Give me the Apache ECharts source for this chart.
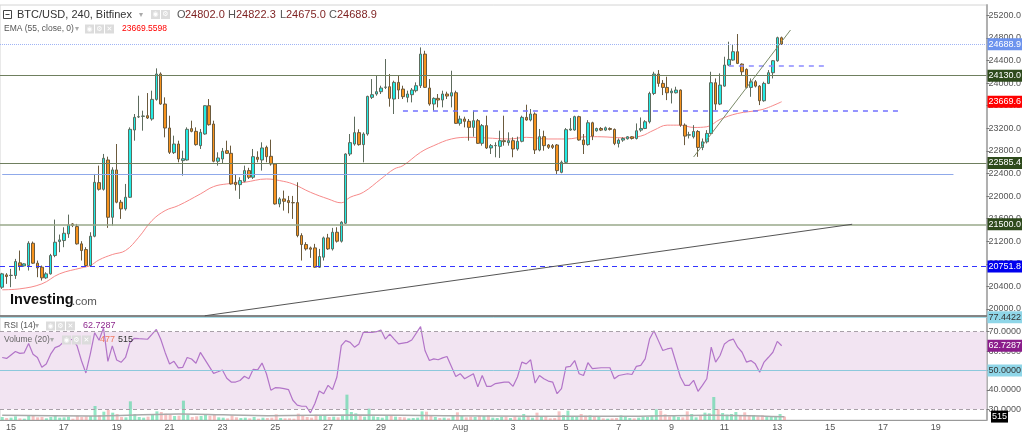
<!DOCTYPE html>
<html>
<head>
<meta charset="utf-8">
<script src="https://cdn.jsdelivr.net/npm/echarts@6/dist/echarts.min.js"></script>
</head>
<body style="margin:0">
<div id="chart" style="width:1024px;height:433px"></div>
<script>
// 4h candles, [open, close, low, high]
var candles = [
[20386,20622,20357,20640],[20604,20575,20445,20634],[20593,20597,20386,20710],[20593,20840,20533,20887],
[20817,20763,20681,21035],[20763,20799,20750,20810],[20769,21164,20681,21200],[21164,20811,20799,21194],
[20811,20728,20563,20858],[20740,20551,20504,20769],[20551,20622,20533,20651],[20622,20946,20610,20976],
[20946,21182,20917,21583],[21194,21223,21005,21318],[21212,21341,21094,21447],[21330,21489,21259,21671],
[21506,21477,21450,21520],[21459,21153,21140,21506],[21153,21035,20858,21200],[21052,20769,20752,21094],
[20769,21288,20752,21359],[21288,22243,21270,22391],[22237,22119,22096,22538],[22119,22668,22096,22745],
[22638,21624,21436,22697],[21624,22462,21477,22509],[22462,21890,21872,22921],[21890,21772,21595,21931],
[21772,21978,21742,22214],[21978,23181,21966,23216],[23169,23393,22980,23452],[23400,23405,23381,23776],
[23410,23417,23157,23511],[23422,23381,23364,23823],[23364,23711,23334,23865],[23711,24160,23688,24260],
[24160,23629,23617,24189],[23629,23204,23039,23747],[23204,22774,22744,23422],[22768,22921,22744,23069],
[22921,22656,22597,22980],[22627,22660,22361,22803],[22638,23181,22627,23216],[23193,23145,23128,23334],
[23145,22910,22892,23216],[22892,23128,22833,23187],[23098,23599,23086,23605],[23599,23263,23246,23717],
[23275,22615,22597,23334],[22615,22674,22538,22774],[22656,22792,22568,22851],[22803,22756,22744,22980],
[22756,22214,22202,22892],[22243,22202,22096,22379],[22202,22273,21949,22332],[22261,22450,22243,22538],
[22450,22332,22302,22500],[22332,22697,22302,22833],[22686,22650,22597,22792],[22638,22851,22450,22951],
[22862,22697,22597,22892],[22703,22568,22538,22998],[22568,21860,21848,22579],[21860,21949,21801,21978],
[21949,21907,21742,22096],[21919,21884,21695,22002],[21884,21880,21595,22002],[21884,21300,21270,22243],
[21300,21141,20858,21341],[21141,21064,21035,21182],[21082,21058,20905,21105],[21082,20740,20728,21153],
[20740,20929,20728,21064],[20917,21259,20858,21282],[21259,21064,21046,21330],[21064,21359,21035,21436],
[21359,21200,21176,21447],[21200,21536,21176,21554],[21518,22744,21506,22756],[22744,22945,22709,23098],
[22921,23122,22892,23405],[23122,22910,22892,23181],[22910,23098,22597,23128],[23098,23764,23069,23776],
[23747,23794,23717,24071],[23806,23847,23776,24130],[23847,23912,23806,23953],[23924,23930,23894,24425],
[23935,23729,23582,24160],[23717,24012,23452,24042],[24012,23877,23717,24130],[23894,23759,23717,23953],
[23747,23806,23658,23865],[23794,23877,23658,23912],[23865,23953,23835,24012],[23953,24513,23912,24631],
[24513,23924,23912,24572],[23912,23629,23599,24071],[23629,23729,23511,23747],[23729,23700,23570,23806],
[23700,23806,23570,23865],[23806,23770,23717,23847],[23770,23829,23570,24218],[23829,23287,23275,23865],
[23287,23364,23246,23422],[23364,23323,23216,23405],[23323,23216,22980,23364],[23216,23334,23051,23511],
[23334,22933,22921,23364],[22933,23246,22892,23275],[23246,22851,22833,23422],[22851,22892,22744,22921],
[22892,22895,22686,22951],[22880,22980,22674,23157],[22980,22963,22892,23422],[22945,22980,22892,23128],
[22980,22833,22686,23039],[22833,22969,22803,23051],[22969,23393,22951,23422],[23393,23346,23334,23617],
[23346,23452,23322,23540],[23452,22815,22744,23481],[22815,23051,22792,23187],[23051,22892,22803,23157],
[22904,22862,22833,22921],[22892,22862,22833,22921],[22904,22450,22391,22921],[22420,22597,22403,22627],
[22597,23175,22585,23204],[23169,23187,23157,23381],[23169,23405,23157,23422],[23405,22992,22980,23422],
[22992,22910,22744,23098],[22910,23297,22892,23344],[23297,23061,22990,23315],[23155,23196,23140,23210],
[23196,23167,23150,23220],[23167,23208,23150,23230],[23196,23179,23160,23215],[23179,22931,22901,23196],
[22931,22990,22860,23019],[22990,23019,22960,23040],[23013,23049,23000,23060],[23049,23019,23000,23061],
[23019,23155,23001,23285],[23167,23196,23137,23391],[23196,23315,23185,23344],[23315,23816,23285,23846],
[23816,24159,23787,24200],[24159,23994,23935,24230],[23994,23923,23787,24053],[23923,23828,23698,24112],
[23828,23858,23639,23905],[23828,23876,23816,23935],[23876,23255,23226,23887],[23255,23061,22901,23285],
[23078,23085,23019,23137],[23049,23143,23019,23255],[23143,22860,22694,23167],[22860,22960,22812,23019],
[22960,23108,22931,23167],[23108,24006,23096,24200],[24006,23628,23521,24082],[23628,23964,23610,24171],
[23946,24318,23935,24466],[24318,24419,24301,24732],[24407,24555,24395,24673],[24555,24348,24336,24868],
[24336,24200,24141,24348],[24242,23923,23905,24260],[23923,24023,23757,24082],[24023,23946,23923,24053],
[23946,23687,23610,23964],[23687,23994,23669,24023],[23994,24183,23982,24230],[24183,24395,24082,24407],
[24395,24803,24378,24821],[24802,24688.9,24675,24822.3]
];

var emaIdx = [0,4,9,13,18,20,22,25,28,31,34,37,40,45,48,51,55,60,63,66,70,74,77,79,82,86,89,91,95,98,102,106,110,115,119,124,128,133,136,141,145,148,151,154,157,160,163,167,172,174,177];
var emaVal = [20340,20357,20445,20622,20728,20769,20870,20964,21035,21270,21565,21742,21831,22037,22167,22214,22243,22302,22273,22214,22066,21949,21880,21978,22066,22302,22479,22538,22774,22892,23010,23039,23028,23010,23039,23010,23010,23051,23049,23031,23061,23167,23255,23255,23214,23226,23356,23462,23521,23569,23669.6];

var rsiIdx = [0,1,3,4,5,6,7,8,9,10,11,12,13,14,16,17,18,19,20,21,22,23,24,25,26,27,28,29,30,31,33,34,35,36,37,38,39,40,41,42,43,44,
  45,46,48,49,50,51,52,53,54,55,56,57,58,59,60,61,62,63,64,65,66,67,68,69,70,71,72,73,74,75,76,77,78,79,80,81,82,84,85,86,87,88,
  89,90,92,93,95,96,97,98,99,100,101,103,104,105,107,108,109,110,111,112,114,115,116,117,118,119,120,121,122,123,124,125,126,127,128,129,130,131,132,
  133,134,136,138,139,140,142,143,144,145,146,147,148,149,150,151,152,154,155,156,157,158,159,160,161,162,163,164,165,166,167,168,169,170,171,172,173,174,175,176,177];
var rsiVal = [56.7,56.2,59.8,58.8,59.1,63.9,58.4,56.7,51.6,53.3,58.4,61.8,62.7,64.9,66.1,62.7,55.0,48.7,58.4,69.5,65.6,72.0,54.7,62.7,55.4,54.2,56.7,64.4,66.6,66.4,66.1,68.6,71.2,66.1,59.3,53.3,54.7,51.3,51.6,56.7,55.9,53.7,
  59.3,55.7,48.5,49.3,50.2,46.0,44.0,44.0,44.8,47.0,45.7,50.6,50.3,53.8,48.3,39.8,41.1,41.0,40.6,40.1,34.6,32.1,31.5,31.5,28.1,32.9,39.4,38.0,42.3,40.1,46.6,62.8,65.4,64.5,62.0,63.7,69.7,69.7,70.0,70.9,66.2,68.8,
  66.2,63.7,64.5,65.7,72.6,60.3,55.1,56.0,55.5,56.5,57.2,46.9,48.3,45.7,48.3,41.5,47.4,41.8,41.8,43.2,44.0,44.0,41.8,46.6,54.3,53.4,55.5,43.5,47.4,45.7,44.5,44.0,38.0,40.6,51.7,52.1,55.1,48.3,47.4,
  54.0,50.9,51.4,51.4,45.7,47.4,48.3,47.9,52.1,52.6,56.0,66.2,70.5,65.4,60.3,61.1,61.6,46.6,42.3,42.3,44.9,39.2,42.3,45.7,62.0,54.3,57.7,63.7,65.4,66.2,62.0,59.4,54.3,55.1,53.4,49.1,54.3,56.8,59.4,65.0,62.7287];

var volumes = [
450,300,350,550,250,200,700,600,400,450, 250,450,750,350,400,500,200,650,450,550,
600,2100,750,1250,1500,1100,900,450,400,2800, 900,450,350,500,750,1300,1200,950,850,600,
650,2900,800,450,550,600,750,650,800,400, 350,250,700,400,300,350,250,450,200,350,
300,350,850,300,250,250,200,950,750,450, 350,800,600,700,450,500,400,600,3800,1200,
1000,650,500,1700,550,450,350,600,700,500, 450,400,250,300,350,1300,1250,700,450,300,
350,250,750,1150,600,400,500,450,650,600, 700,350,300,450,500,300,550,400,900,450,
350,1100,600,500,250,300,1300,750,1400,450, 550,900,650,700,600,450,250,200,250,300,
700,450,300,250,350,500,450,650,1600,1400, 850,550,650,450,400,1300,900,400,600,1100,
1000,3450,1650,1050,800,900,1200,750,1150,650, 750,550,700,600,450,550,900,515
];
var volMaIdx = [0,20,40,60,80,100,120,140,160,177];
var volMaVal = [700,600,900,650,750,650,550,550,700,477];

var tickDays = [0,2,4,6,8,10,12,14,17,19,21,23,25,27,29,31,33,35];
var tickLabels = ['15','17','19','21','23','25','27','29','Aug','3','5','7','9','11','13','15','17','19'];
var priceTicks = [20000,20400,20800,21200,21600,22000,22400,22800,23200,23600,24000,24400,24800,25200];
var rsiTicks = [30,40,50,60,70];

var N = 224;
var cats = [];
for (var i = 0; i < N; i++) cats.push(String(i));
var labelAt = {};
tickDays.forEach(function (d, k) { labelAt[String(2 + 6 * d)] = tickLabels[k]; });
var isTick = function (idx, val) { return labelAt[val] !== undefined; };

function tag(v, text, bg, fg, line) {
  return {
    yAxis: v,
    lineStyle: line || { color: 'transparent' },
    label: { show: true, position: 'end', distance: 1, formatter: text, backgroundColor: bg, color: fg,
      fontSize: 9, fontFamily: 'Liberation Sans', padding: [2, 1, 1, 1] }
  };
}
function seg(x1, v1, x2, v2, style) {
  return [{ coord: [x1, v1], lineStyle: style, label: { show: false } }, { coord: [x2, v2] }];
}

var volData = volumes.map(function (v, i) {
  var up = candles[i][1] >= candles[i][0];
  return { value: v, itemStyle: { color: up ? 'rgba(40,210,140,0.5)' : 'rgba(240,120,120,0.45)' } };
});

var chart = echarts.init(document.getElementById('chart'));

var texts = [];
function txt(x, y, s, size, color, weight) {
  texts.push({ type: 'text', x: x, y: y, z: 100,
    style: { text: s, fontSize: size, fontFamily: 'Liberation Sans', fontWeight: weight || 'normal', fill: color, verticalAlign: 'middle' } });
}
function icons(x, y, n) {
  var glyph = ['◉', '⚙', '✕'];
  for (var k = 0; k < n; k++) {
    texts.push({ type: 'rect', z: 100, shape: { x: x + k * 10, y: y, width: 9, height: 9 }, style: { fill: '#dcdcdc' } });
    texts.push({ type: 'text', z: 101, x: x + k * 10 + 4.5, y: y + 4.5,
      style: { text: glyph[k], fontSize: 7, fill: '#fff', align: 'center', verticalAlign: 'middle', fontFamily: 'DejaVu Sans' } });
  }
}
texts.push({ type: 'rect', z: 100, shape: { x: 3.5, y: 10.5, width: 8, height: 8 }, style: { fill: '#fff', stroke: '#444', lineWidth: 1 } });
texts.push({ type: 'line', z: 101, shape: { x1: 5.5, y1: 14.5, x2: 9.5, y2: 14.5 }, style: { stroke: '#444', lineWidth: 1 } });
txt(17, 15, 'BTC/USD, 240, Bitfinex', 11, '#333');
txt(139, 15, '▾', 8, '#aaa');
icons(151, 10, 2);
txt(177, 15, 'O', 11, '#555'); txt(185, 15, '24802.0', 11, '#7d1f1f');
txt(228, 15, 'H', 11, '#555'); txt(236, 15, '24822.3', 11, '#7d1f1f');
txt(280, 15, 'L', 11, '#555'); txt(286, 15, '24675.0', 11, '#7d1f1f');
txt(329, 15, 'C', 11, '#555'); txt(337, 15, '24688.9', 11, '#7d1f1f');
txt(4, 29, 'EMA (55, close, 0)', 8.5, '#555');
txt(75, 29, '▾', 8, '#aaa');
icons(85, 24.5, 3);
txt(122, 29, '23669.5598', 8.5, '#ff0000');
txt(4, 326, 'RSI (14)', 8.5, '#555');
txt(35, 326, '▾', 8, '#aaa');
icons(46, 321.5, 3);
txt(83, 326, '62.7287', 9, '#8e2a8e');
txt(4, 340, 'Volume (20)', 8.5, '#666');
txt(50, 340, '▾', 8, '#aaa');
icons(62, 335.5, 3);
txt(100, 340, '477', 9, '#f07860');
txt(118, 340, '515', 9, '#333');
txt(10, 300, 'Investing', 14.5, '#111', 'bold');
txt(72, 302, '.com', 11.5, '#555');

var option = {
  animation: false,
  backgroundColor: '#fff',
  grid: [
    { left: 0, top: 5, width: 990, height: 311, show: true, borderColor: '#d4d4d4', borderWidth: 1 },
    { left: 0, top: 317, width: 990, height: 103, show: true, borderColor: '#d4d4d4', borderWidth: 1 },
    { left: 0, top: 394, width: 990, height: 26 }
  ],
  xAxis: [
    { type: 'category', data: cats, gridIndex: 0, axisLabel: { show: false }, axisTick: { show: false },
      axisLine: { lineStyle: { color: '#666', width: 1.5 } } },
    { type: 'category', data: cats, gridIndex: 1,
      axisLine: { lineStyle: { color: '#999' } },
      axisTick: { interval: isTick, alignWithLabel: true, length: 3, lineStyle: { color: '#888' } },
      axisLabel: { interval: isTick, formatter: function (v) { return labelAt[v] || ''; },
        color: '#555', fontSize: 9, fontFamily: 'Liberation Sans', margin: 3 } },
    { type: 'category', data: cats, gridIndex: 2, show: false }
  ],
  yAxis: [
    { gridIndex: 0, position: 'right', min: 19876, max: 25382, splitLine: { show: false },
      axisLine: { show: true, lineStyle: { color: '#b0b0b0', width: 2 } },
      axisTick: { show: true, length: 3, customValues: priceTicks, lineStyle: { color: '#777' } },
      axisLabel: { customValues: priceTicks, formatter: function (v) { return v.toFixed(1); },
        color: '#555', fontSize: 9, fontFamily: 'Liberation Sans', margin: 2 } },
    { gridIndex: 1, position: 'right', min: 24.4, max: 77.6, splitLine: { show: false },
      axisLine: { show: true, lineStyle: { color: '#b0b0b0', width: 2 } },
      axisTick: { show: true, length: 3, customValues: rsiTicks, lineStyle: { color: '#777' } },
      axisLabel: { customValues: rsiTicks, formatter: function (v) { return v.toFixed(4); },
        color: '#555', fontSize: 9, fontFamily: 'Liberation Sans', margin: 2 } },
    { gridIndex: 2, min: 0, max: 3900, show: false }
  ],
  series: [
    {
      type: 'line', xAxisIndex: 0, yAxisIndex: 0, z: 2,
      data: emaIdx.map(function (x, k) { return [x, emaVal[k]]; }),
      smooth: 0.4, showSymbol: false, lineStyle: { color: '#f78a8a', width: 1 },
      markLine: {
        symbol: ['none', 'none'], silent: true, animation: false,
        data: [
          tag(24688.9, '24688.9', '#6c93ee', '#fff', { color: '#9fb4f5', type: 'dotted', width: 1 }),
          tag(24130, '24130.0', '#2e4a1c', '#fff', { color: '#6f7f5f', type: 'solid', width: 1.2 }),
          tag(23669.6, '23669.6', '#ff0000', '#fff'),
          tag(22585.4, '22585.4', '#2e4a1c', '#fff', { color: '#6f7f5f', type: 'solid', width: 1.2 }),
          tag(21500, '21500.0', '#2e4a1c', '#fff', { color: '#98a88a', type: 'solid', width: 1.5 }),
          tag(20751.8, '20751.8', '#0000ee', '#fff', { color: '#3434ff', type: [5, 4], width: 1 }),
          seg(0, 22390, 216, 22390, { color: '#8fa9ea', type: 'solid', width: 1.2 }),
          seg(91, 23511, 204, 23511, { color: '#7272ff', type: [5, 5], width: 1.5 }),
          seg(165, 24307, 187, 24307, { color: '#8a8aff', type: [5, 5], width: 1.5 }),
          seg(46, 19880, 193, 21500, { color: '#555', type: 'solid', width: 1 }),
          seg(157, 22691, 179, 24939, { color: '#7a8a68', type: 'solid', width: 1 })
        ]
      }
    },
    {
      type: 'candlestick', xAxisIndex: 0, yAxisIndex: 0, z: 3, data: candles, barWidth: 3,
      itemStyle: { color: '#22ece6', color0: '#f7931e', borderColor: '#5d6b5d', borderColor0: '#6b5a3d', borderWidth: 1 }
    },
    {
      type: 'line', xAxisIndex: 1, yAxisIndex: 1, z: 3,
      data: rsiIdx.map(function (x, k) { return [x, rsiVal[k]]; }),
      showSymbol: false, lineStyle: { color: '#b274c8', width: 1.2 },
      markArea: { silent: true, itemStyle: { color: '#f2e4f2' }, data: [[{ yAxis: 30 }, { yAxis: 70 }]] },
      markLine: {
        symbol: ['none', 'none'], silent: true, animation: false,
        data: [
          { yAxis: 70, lineStyle: { color: '#a8a0a8', type: [4, 3], width: 1 }, label: { show: false } },
          { yAxis: 30, lineStyle: { color: '#a8a0a8', type: [4, 3], width: 1 }, label: { show: false } },
          tag(50, '50.0000', '#8fd6e8', '#333', { color: '#8cc8dc', type: 'solid', width: 1 }),
          tag(77.4422, '77.4422', '#8fd6e8', '#333', { color: '#a8dde8', type: 'solid', width: 1 }),
          tag(62.7287, '62.7287', '#8b1c8b', '#fff')
        ]
      }
    },
    {
      type: 'bar', xAxisIndex: 2, yAxisIndex: 2, z: 4, data: volData, barWidth: 3,
      markLine: {
        symbol: ['none', 'none'], silent: true, animation: false,
        data: [tag(515, '515', '#000', '#fff')]
      }
    },
    {
      type: 'line', xAxisIndex: 2, yAxisIndex: 2, z: 5,
      data: volMaIdx.map(function (x, k) { return [x, volMaVal[k]]; }),
      smooth: 0.3, showSymbol: false, lineStyle: { color: '#aaa', width: 1.5 }
    }
  ],
  graphic: texts
};
chart.setOption(option);
</script>
</body>
</html>
